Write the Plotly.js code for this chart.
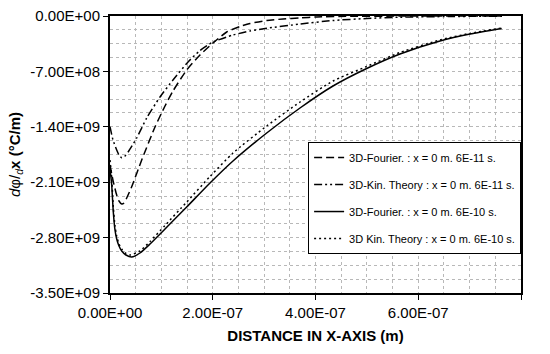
<!DOCTYPE html>
<html>
<head>
<meta charset="utf-8">
<script src="https://cdn.plot.ly/plotly-3.0.1.min.js"></script>
<style>html,body{margin:0;padding:0;background:#fff;}#chart{width:550px;height:354px;}</style>
</head>
<body>
<div id="chart"></div>
<script>
// Series 1: 3D-Fourier, 6E-11 s (dashed)
const fourier11X = [0, 6.42e-9, 1.304e-8, 1.752e-8, 2.277e-8, 2.725e-8, 3.251e-8, 4.224e-8, 6.170e-8, 8.759e-8, 1.0706e-7, 1.2263e-7, 1.4929e-7, 1.7518e-7, 2.0049e-7, 2.2715e-7, 2.5304e-7, 2.7251e-7, 3.0501e-7, 3.3674e-7, 3.6983e-7, 4.0234e-7, 4.6715e-7, 5.6448e-7, 7.630e-7];
const fourier11Y = [-1.8827e9, -2.0937e9, -2.2617e9, -2.3375e9, -2.3755e9, -2.3628e9, -2.2996e9, -2.1569e9, -1.8195e9, -1.4025e9, -1.1372e9, -9.477e8, -6.823e8, -4.928e8, -3.412e8, -2.022e8, -1.327e8, -9.48e7, -5.69e7, -3.79e7, -2.53e7, -1.26e7, -3.8e6, -1.3e6, -5e5];

// Series 2: 3D-Kin. Theory, 6E-11 s (dash-dot)
const kin11X = [0, 5.84e-9, 1.304e-8, 1.752e-8, 2.277e-8, 2.822e-8, 3.562e-8, 5.197e-8, 7.144e-8, 9.732e-8, 1.2263e-7, 1.5182e-7, 1.7518e-7, 2.0049e-7, 2.3942e-7, 2.7251e-7, 3.0501e-7, 3.6983e-7, 4.3406e-7, 4.9966e-7, 5.6448e-7, 6.6180e-7, 7.630e-7];
const kin11Y = [-1.3987e9, -1.5668e9, -1.6931e9, -1.7563e9, -1.7904e9, -1.7753e9, -1.7146e9, -1.5415e9, -1.2888e9, -1.0235e9, -8.087e8, -5.812e8, -4.359e8, -3.285e8, -2.401e8, -1.895e8, -1.554e8, -1.011e8, -5.69e7, -3.16e7, -1.52e7, -6.3e6, -2.5e6];

// Series 3: 3D-Fourier, 6E-10 s (solid)
const fourier10X = [0, 3.31e-9, 6.42e-9, 9.73e-9, 1.304e-8, 1.752e-8, 2.277e-8, 3.114e-8, 4.224e-8, 5.839e-8, 7.786e-8, 1.0706e-7, 1.4929e-7, 1.9465e-7, 2.3942e-7, 3.0501e-7, 3.6983e-7, 4.3406e-7, 4.9966e-7, 5.6448e-7, 6.4234e-7, 7.0073e-7, 7.6242e-7];
const fourier10Y = [-1.9206e9, -2.1354e9, -2.4765e9, -2.7040e9, -2.8177e9, -2.9061e9, -2.9693e9, -3.0199e9, -3.0451e9, -2.9946e9, -2.8809e9, -2.6913e9, -2.4134e9, -2.1101e9, -1.8321e9, -1.4783e9, -1.1625e9, -8.845e8, -6.634e8, -4.801e8, -3.159e8, -2.274e8, -1.579e8];

// Series 4: 3D Kin. Theory, 6E-10 s (dotted)
const kin10X = [0, 3.31e-9, 6.42e-9, 9.73e-9, 1.304e-8, 1.752e-8, 2.277e-8, 3.114e-8, 3.893e-8, 5.839e-8, 7.786e-8, 1.0706e-7, 1.4929e-7, 1.9465e-7, 2.3942e-7, 3.0501e-7, 3.6983e-7, 4.3406e-7, 4.9966e-7, 5.6448e-7, 6.4234e-7, 7.0073e-7, 7.6242e-7];
const kin10Y = [-1.8195e9, -2.0469e9, -2.4134e9, -2.6534e9, -2.7798e9, -2.8809e9, -2.9440e9, -3.0009e9, -3.0199e9, -2.9693e9, -2.8493e9, -2.6471e9, -2.3502e9, -2.0280e9, -1.7311e9, -1.3899e9, -1.0866e9, -8.213e8, -6.381e8, -4.612e8, -3.032e8, -2.199e8, -1.516e8];

const seriesNames = [
  "3D-Fourier. : x = 0 m. 6E-11 s.",
  "3D-Kin. Theory : x = 0 m. 6E-11 s.",
  "3D-Fourier. : x = 0 m. 6E-10 s.",
  "3D Kin. Theory : x = 0 m. 6E-10 s."
];

const yTickVals = [0, -7e8, -1.4e9, -2.1e9, -2.8e9, -3.5e9];
const yTickText = ["0.00E+00", "-7.00E+08", "-1.40E+09", "-2.10E+09", "-2.80E+09", "-3.50E+09"];
const xTickVals = [0, 2e-7, 4e-7, 6e-7, 8e-7];
const xTickText = ["0.00E+00", "2.00E-07", "4.00E-07", "6.00E-07", "8.00E-07"];

const font = "Liberation Sans, Arial, sans-serif";

function tr(x, y, name, dash, g) {
  return {
    x: x, y: y, name: name, type: "scatter", mode: "lines",
    legendgroup: g,
    line: {color: "#000", width: 1.5, dash: dash, shape: "spline", smoothing: 0.6},
    hoverinfo: "skip"
  };
}

const data = [
  tr(fourier11X, fourier11Y, seriesNames[0], "8px,4px", "a"),
  tr(kin11X, kin11Y, seriesNames[1], "8px,3px,2px,3px,2px,3px", "b"),
  tr(fourier10X, fourier10Y, seriesNames[2], "solid", "c"),
  tr(kin10X, kin10Y, seriesNames[3], "2px,3px", "d")
];

const gridStyle = {gridcolor: "#b8b8b8", griddash: "dot", gridwidth: 1};

const layout = {
  width: 550, height: 354,
  margin: {l: 110, r: 29, t: 16, b: 61},
  paper_bgcolor: "#fff", plot_bgcolor: "#fff",
  font: {family: font, size: 15, color: "#000"},
  showlegend: true,
  legend: {
    x: 0.482, y: 0.545, xanchor: "left", yanchor: "top",
    bgcolor: "#fff", bordercolor: "#000", borderwidth: 1,
    font: {family: font, size: 11, color: "#000"},
    traceorder: "grouped", tracegroupgap: 8,
    entrywidth: 142
  },
  xaxis: Object.assign({
    range: [0, 8e-7], tickvals: xTickVals, ticktext: xTickText,
    ticks: "outside", ticklen: 5, tickcolor: "#000",
    showline: true, linecolor: "#000", linewidth: 2, mirror: true,
    zeroline: false, showgrid: true,
    minor: Object.assign({dtick: 5e-8, showgrid: true}, gridStyle),
    title: {text: "<b>DISTANCE IN X-AXIS (m)</b>", font: {family: font, size: 15}, standoff: 10}
  }, gridStyle),
  yaxis: Object.assign({
    range: [-3.5e9, 0], tickvals: yTickVals, ticktext: yTickText,
    ticks: "outside", ticklen: 5, tickcolor: "#000",
    showline: true, linecolor: "#000", linewidth: 2, mirror: true,
    zeroline: false, showgrid: true,
    minor: Object.assign({dtick: 1.75e8, tick0: 0, showgrid: true}, gridStyle),
    title: {text: "<i>d</i>φ/<sub><i>d</i></sub><b>x (°C/m)</b>", font: {family: font, size: 15}, standoff: 6}
  }, gridStyle)
};

Plotly.newPlot("chart", data, layout, {displayModeBar: false, staticPlot: true});
</script>
</body>
</html>
